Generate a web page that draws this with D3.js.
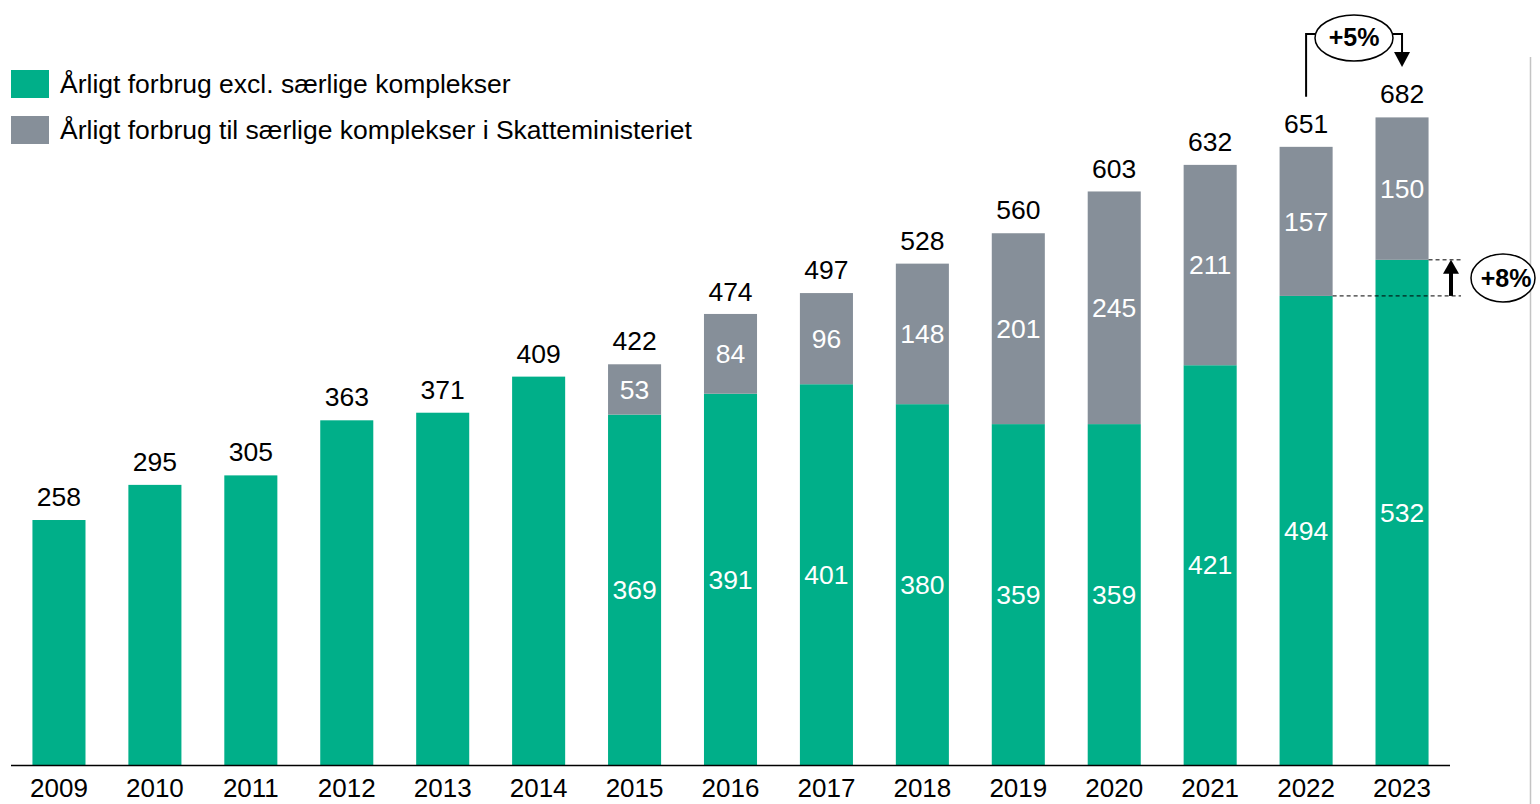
<!DOCTYPE html>
<html><head><meta charset="utf-8">
<script src="https://cdn.jsdelivr.net/npm/d3@7"></script>
<style>body{margin:0;background:#fff;}svg{display:block;font-family:"Liberation Sans",Arial,sans-serif;}</style>
</head><body><svg id="c" width="1540" height="804"></svg>
<script>
const years = ["2009","2010","2011","2012","2013","2014","2015","2016","2017","2018","2019","2020","2021","2022","2023"];
const baseValues = [258,295,305,363,371,409,369,391,401,380,359,359,421,494,532];
const specialValues = [0,0,0,0,0,0,53,84,96,148,201,245,211,157,150];
const totals = [258,295,305,363,371,409,422,474,497,528,560,603,632,651,682];
const seriesNames = ["Årligt forbrug excl. særlige komplekser","Årligt forbrug til særlige komplekser i Skatteministeriet"];
const colors = ["#00AF89","#868F99"];

const svg = d3.select("#c");
const x = d3.scaleBand().domain(years).range([11,1450]).paddingInner(0.447).paddingOuter(0.2235);
const y = d3.scaleLinear().domain([0,682]).range([765,117.4]);

const data = years.map((yr,i)=>({yr, base:baseValues[i], spec:specialValues[i], total:totals[i]}));

svg.selectAll(".g").data(data).enter().append("rect")
  .attr("x",d=>x(d.yr)).attr("width",x.bandwidth())
  .attr("y",d=>y(d.base)).attr("height",d=>y(0)-y(d.base)).attr("fill",colors[0]);
svg.selectAll(".s").data(data.filter(d=>d.spec>0)).enter().append("rect")
  .attr("x",d=>x(d.yr)).attr("width",x.bandwidth())
  .attr("y",d=>y(d.base+d.spec)).attr("height",d=>y(d.base)-y(d.base+d.spec)).attr("fill",colors[1]);

const fs = 26.5;
svg.selectAll(".t").data(data).enter().append("text")
  .attr("x",d=>x(d.yr)+x.bandwidth()/2).attr("y",d=>y(d.total)-14)
  .attr("text-anchor","middle").attr("font-size",fs).attr("fill","#000").text(d=>d.total);
const stacked = data.filter(d=>d.spec>0);
svg.selectAll(".ib").data(stacked).enter().append("text")
  .attr("x",d=>x(d.yr)+x.bandwidth()/2).attr("y",d=>(y(d.base)+y(0))/2)
  .attr("dy","0.35em").attr("text-anchor","middle").attr("font-size",fs).attr("fill","#fff").text(d=>d.base);
svg.selectAll(".is").data(stacked).enter().append("text")
  .attr("x",d=>x(d.yr)+x.bandwidth()/2).attr("y",d=>(y(d.base)+y(d.base+d.spec))/2)
  .attr("dy","0.35em").attr("text-anchor","middle").attr("font-size",fs).attr("fill","#fff").text(d=>d.spec);

const ax = svg.append("g").attr("transform",`translate(0,${y(0)})`)
  .call(d3.axisBottom(x).tickSize(0).tickPadding(14));
ax.select(".domain").attr("stroke","#000").attr("stroke-width",1.5).attr("d","M11,0.5H1450");
ax.selectAll("text").attr("font-size",26).attr("fill","#000").attr("font-family","Liberation Sans, Arial, sans-serif");

svg.append("line").attr("x1",1530.5).attr("x2",1530.5).attr("y1",57).attr("y2",804).attr("stroke","#c4c4c4").attr("stroke-width",1.5);

const lg = svg.append("g");
seriesNames.forEach((n,i)=>{
  lg.append("rect").attr("x",11).attr("y",70+i*46).attr("width",38).attr("height",28).attr("fill",colors[i]);
  lg.append("text").attr("x",60).attr("y",84+i*46).attr("dy","0.35em").attr("font-size",fs).attr("fill","#000").text(n);
});

const cx22 = x("2022")+x.bandwidth()/2, cx23 = x("2023")+x.bandwidth()/2;
const ann = svg.append("g");
ann.append("path").attr("d",`M${cx22},${y(651)-50}V34H1316`).attr("fill","none").attr("stroke","#000").attr("stroke-width",2);
ann.append("path").attr("d",`M1392,34H${cx23}V54`).attr("fill","none").attr("stroke","#000").attr("stroke-width",2);
ann.append("path").attr("d",`M${cx23-8},52L${cx23+8},52L${cx23},67Z`).attr("fill","#000");
ann.append("ellipse").attr("cx",1354).attr("cy",38).attr("rx",39).attr("ry",23).attr("fill","#fff").attr("stroke","#000").attr("stroke-width",1.5);
ann.append("text").attr("x",1354).attr("y",37).attr("dy","0.35em").attr("text-anchor","middle").attr("font-size",25).attr("font-weight","bold").text("+5%");

const xr = x("2023")+x.bandwidth();
[y(532), y(494)].forEach((yy,i)=>{
  ann.append("line").attr("x1", i===0 ? xr : x("2022")+x.bandwidth()).attr("x2",1461).attr("y1",yy).attr("y2",yy)
    .attr("stroke","#000").attr("stroke-width",1).attr("stroke-dasharray","4,3");
});
ann.append("line").attr("x1",1451).attr("x2",1451).attr("y1",y(494)).attr("y2",y(532)+12).attr("stroke","#000").attr("stroke-width",4);
ann.append("path").attr("d",`M1443,${y(532)+14}L1459,${y(532)+14}L1451,${y(532)}Z`).attr("fill","#000");
ann.append("ellipse").attr("cx",1503).attr("cy",278).attr("rx",32).attr("ry",24).attr("fill","#fff").attr("stroke","#000").attr("stroke-width",1.5);
ann.append("text").attr("x",1506).attr("y",278).attr("dy","0.35em").attr("text-anchor","middle").attr("font-size",25).attr("font-weight","bold").text("+8%");
</script></body></html>
